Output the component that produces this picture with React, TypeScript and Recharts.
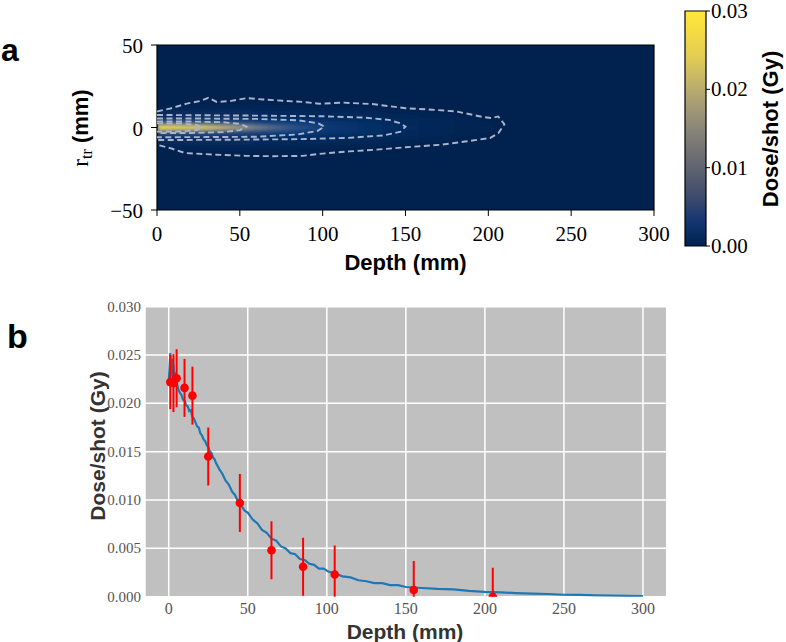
import React from 'react';
import {
  ComposedChart, Line, Area, Scatter, XAxis, YAxis, CartesianGrid, ErrorBar, ReferenceArea,
} from 'recharts';

// ---------- data ----------
const depthTicks = [0, 50, 100, 150, 200, 250, 300];
const radialTicks = [-50, 0, 50];
const colorbarTicks = [0, 0.01, 0.02, 0.03];
const colorbarRange = [0, 0.03];
const doseTicks = [0, 0.005, 0.01, 0.015, 0.02, 0.025, 0.03];

// measured points (panel b)
const measDepth = [1, 3, 5, 10, 15, 25, 45, 65, 85, 105, 155, 205];
const measDose = [0.0222, 0.0221, 0.0226, 0.0216, 0.0208, 0.0145, 0.0097, 0.0048, 0.0031, 0.0023, 0.0007, 0.0000];
const measErr = [0.0028, 0.003, 0.003, 0.003, 0.003, 0.003, 0.003, 0.003, 0.003, 0.003, 0.003, 0.003];

// simulated depth-dose curve (panel b)
const simDepth = [0, 0.5, 1, 1.5, 2, 2.5, 3, 3.5, 4, 4.5, 5, 6, 7, 8, 9, 10, 11, 12, 13, 14, 15, 16, 17, 18, 19, 20,
  21, 22, 23, 24, 25, 26, 27, 28, 29, 30, 32, 34, 36, 38, 40, 42, 44, 46, 48, 50, 53, 56, 59, 62, 65, 68, 71, 74,
  77, 80, 83, 86, 89, 92, 95, 98, 101, 105, 110, 115, 120, 125, 130, 135, 140, 145, 150, 160, 170, 180, 190, 200,
  210, 220, 230, 240, 250, 260, 270, 280, 290, 300];
const simDose = [0.0222, 0.0236, 0.0252, 0.0228, 0.0246, 0.0225, 0.0240, 0.0221, 0.0232, 0.0217, 0.0222, 0.0215,
  0.0211, 0.0209, 0.0204, 0.0203, 0.0198, 0.0197, 0.0192, 0.0193, 0.0186, 0.0184, 0.0180, 0.0176, 0.0175, 0.0169,
  0.0167, 0.0163, 0.0161, 0.0157, 0.0155, 0.0150, 0.0149, 0.0144, 0.0142, 0.0138, 0.0132, 0.0127, 0.0120, 0.0116,
  0.0109, 0.0105, 0.0098, 0.0094, 0.0089, 0.0087, 0.0080, 0.0076, 0.0069, 0.0066, 0.0060, 0.0058, 0.0052, 0.0050,
  0.0045, 0.0044, 0.0039, 0.0038, 0.0034, 0.0033, 0.0029, 0.0029, 0.0026, 0.0024, 0.0021, 0.0020, 0.0017, 0.0016,
  0.0014, 0.0014, 0.0012, 0.0012, 0.0010, 0.0009, 0.0008, 0.00075, 0.0006, 0.0005, 0.00044, 0.00038, 0.00032,
  0.00028, 0.0002, 0.00019, 0.00014, 0.00011, 0.00008, 0.00005];

// isodose contours (panel a), [depth mm, r mm]
const contourOuter: [number, number][] = [[0, 9.7], [8, 11.5], [18, 14.5], [26, 16], [31, 18], [36, 15.5], [44, 16],
  [54, 17.8], [64, 17], [76, 16.2], [88, 15.5], [98, 14.4], [112, 15.1], [130, 14.2], [150, 11.7], [166, 10.8],
  [181, 9.7], [196, 6.5], [202, 5.7], [206, 6.7], [209.7, 2], [206, -3.5], [201, -6.4], [186, -8.5], [171, -10.5],
  [150, -12], [131, -13.5], [116, -14.5], [108, -15.1], [98, -16], [88, -17.2], [70, -17.4], [54, -17.2],
  [36, -16.5], [17, -15.5], [8, -12.5], [0, -10.5]];
const contour150: [number, number][] = [[0, 7.6], [30, 7.4], [60, 7.2], [100, 6.8], [125, 6], [140, 4.6], [147, 2.5],
  [150, 0.5], [147, -2.5], [137, -4.8], [115, -6.3], [90, -7], [60, -7.3], [30, -7.5], [0, -7.6]];
const contour100: [number, number][] = [[0, 5.5], [30, 5.4], [60, 5.2], [85, 4.4], [97, 2.6], [101, 0.6], [97, -2],
  [85, -4.2], [60, -5.6], [30, -5.8], [0, -5.9]];
const contour50: [number, number][] = [[0, 3.6], [20, 3.6], [40, 3.2], [50, 2.2], [54, 0.5], [50, -1.6], [40, -2.8],
  [20, -3.3], [0, -3.4]];
const contour25: [number, number][] = [[0, 2.5], [15, 2.4], [24, 1.5], [27, 0], [24, -1.5], [15, -2.4], [0, -2.5]];

// dose bands (panel a): depth and half-width in mm
const beamDepth = [0, 20, 40, 60, 80, 100, 112];
const beamHalf = [1.9, 1.8, 1.8, 1.7, 1.5, 1.1, 0];
const glowDepth = [0, 30, 60, 90, 120, 150, 165];
const glowHalf = [5, 5, 4.8, 4.5, 3.8, 2.5, 0];
const haloDepth = [0, 50, 100, 150, 190, 215];
const haloHalf = [10, 11, 10, 8, 5, 0];

// ---------- derived tables ----------
// error bars are cut at the lower edge of the plot (dose 0), like the reference
const measData = measDepth.map((x, i) => ({ x, y: measDose[i], err: [Math.min(measErr[i], measDose[i]), measErr[i]] }));
const simData = simDepth.map((x, i) => ({ x, y: simDose[i] }));
const toLine = (pts: [number, number][]) => pts.map(([x, y]) => ({ x, y }));
const toBand = (d: number[], h: number[]) => d.map((x, i) => ({ x, r: [-h[i], h[i]] }));
const contours = [contourOuter, contour150, contour100, contour50, contour25].map(toLine);
const beamData = toBand(beamDepth, beamHalf);
const glowData = toBand(glowDepth, glowHalf);
const haloData = toBand(haloDepth, haloHalf);
const cbarData = colorbarRange.map((y, i) => ({ x: i, y }));

const SERIF = '"Liberation Serif", "DejaVu Serif", serif';
const SANS = '"Liberation Sans", Arial, sans-serif';

const fmtSigned = (v: number) => (v < 0 ? `\u2212${-v}` : `${v}`);

const TopXTick = (p: any) => (
  <text x={p.x} y={p.y + 25} textAnchor="middle" fontFamily={SERIF} fontSize={21} fill="#000">{fmtSigned(p.payload.value)}</text>
);
const TopYTick = (p: any) => (
  <text x={p.x - 8} y={p.y + 8} textAnchor="end" fontFamily={SERIF} fontSize={21} fill="#000">{fmtSigned(p.payload.value)}</text>
);
const CbarTick = (p: any) => (
  <text x={p.x + 1} y={p.y + 7} textAnchor="start" fontFamily={SERIF} fontSize={21} fill="#000">{Number(p.payload.value).toFixed(2)}</text>
);
const BotXTick = (p: any) => (
  <text x={p.x} y={p.y + 17.5} textAnchor="middle" fontFamily={SERIF} fontSize={16} fill="#555">{p.payload.value}</text>
);
const BotYTick = (p: any) => (
  <text x={p.x - 4} y={p.y + 5} textAnchor="end" fontFamily={SERIF} fontSize={15} fill="#555">{Number(p.payload.value).toFixed(3)}</text>
);

export default function App() {
  return (
    <div style={{ position: 'absolute', left: 0, top: 0, width: 786, height: 642, background: '#fff', overflow: 'hidden' }}>
      <div style={{ position: 'absolute', left: 1, top: 30, fontFamily: SANS, fontWeight: 700, fontSize: 32, lineHeight: '40px' }}>a</div>
      <div style={{ position: 'absolute', left: 7, top: 315, fontFamily: SANS, fontWeight: 700, fontSize: 34, lineHeight: '42px' }}>b</div>

      {/* panel a: dose map */}
      <div style={{ position: 'absolute', left: 0, top: 0 }}>
        <ComposedChart width={786} height={280} margin={{ top: 45, right: 132, bottom: 0, left: 0 }}>
          <defs>
            <linearGradient id="beamGrad" x1="0" y1="0" x2="1" y2="0">
              <stop offset="0" stopColor="#f7de5c" />
              <stop offset="0.25" stopColor="#ead06a" />
              <stop offset="0.4" stopColor="#b9aa7a" />
              <stop offset="0.55" stopColor="#7c8088" />
              <stop offset="0.75" stopColor="#3e5b8c" stopOpacity="0.8" />
              <stop offset="1" stopColor="#1e4a8c" stopOpacity="0" />
            </linearGradient>
            <linearGradient id="glowGrad" x1="0" y1="0" x2="1" y2="0">
              <stop offset="0" stopColor="#3d5a88" stopOpacity="0.7" />
              <stop offset="0.5" stopColor="#1c4f98" stopOpacity="0.5" />
              <stop offset="1" stopColor="#0d3a7a" stopOpacity="0" />
            </linearGradient>
            <linearGradient id="haloGrad" x1="0" y1="0" x2="1" y2="0">
              <stop offset="0" stopColor="#12387a" stopOpacity="0.5" />
              <stop offset="0.6" stopColor="#0c3a7c" stopOpacity="0.35" />
              <stop offset="1" stopColor="#0c3a7c" stopOpacity="0" />
            </linearGradient>
            <filter id="soft" x="-20%" y="-150%" width="140%" height="400%">
              <feGaussianBlur stdDeviation="2" />
            </filter>
            <filter id="softer" x="-20%" y="-100%" width="140%" height="300%">
              <feGaussianBlur stdDeviation="4" />
            </filter>
          </defs>
          <CartesianGrid fill="#01224f" horizontal={false} vertical={false} />
          <XAxis type="number" dataKey="x" domain={[0, 300]} ticks={depthTicks} allowDataOverflow
            height={70} tickSize={6} tickMargin={0} axisLine={false} tickLine={{ stroke: '#000' }} tick={TopXTick}
            label={{ content: () => (
              <text x={405.5} y={270} textAnchor="middle" fontFamily={SANS} fontWeight={700} fontSize={22} fill="#000">Depth (mm)</text>
            ) }} />
          <YAxis type="number" domain={[-50, 50]} ticks={radialTicks} allowDataOverflow width={157}
            tickSize={6} tickMargin={0} axisLine={false} tickLine={{ stroke: '#000' }} tick={TopYTick}
            label={{ content: () => (
              <text x={88} y={128} transform="rotate(-90 88 128)" textAnchor="middle" fill="#000">
                <tspan fontFamily={SERIF} fontSize={23}>r</tspan>
                <tspan fontFamily={SERIF} fontSize={16} dy={4}>tr</tspan>
                <tspan fontFamily={SANS} fontWeight={700} fontSize={22} dy={-4}> (mm)</tspan>
              </text>
            ) }} />
          <Area data={haloData} dataKey="r" type="monotone" stroke="none" fill="url(#haloGrad)" fillOpacity={1}
            filter="url(#softer)" isAnimationActive={false} />
          <Area data={glowData} dataKey="r" type="monotone" stroke="none" fill="url(#glowGrad)" fillOpacity={1}
            filter="url(#soft)" isAnimationActive={false} />
          <Area data={beamData} dataKey="r" type="monotone" stroke="none" fill="url(#beamGrad)" fillOpacity={1}
            filter="url(#soft)" isAnimationActive={false} />
          {contours.map((c, i) => (
            <Line key={i} data={c} dataKey="y" type="linear" stroke="#a9b5cc" strokeWidth={1.9}
              strokeDasharray="6 3.5" dot={false} activeDot={false} isAnimationActive={false} />
          ))}
          <ReferenceArea x1={0} x2={300} y1={-50} y2={50} fill="none" stroke="#000" strokeWidth={1.2} fillOpacity={0} />
        </ComposedChart>
      </div>

      {/* colour bar */}
      <div style={{ position: 'absolute', left: 660, top: 0 }}>
        <ComposedChart width={126} height={270} margin={{ top: 11, right: 0, bottom: 24, left: 25 }} data={cbarData}>
          <defs>
            <linearGradient id="cividis" x1="0" y1="1" x2="0" y2="0">
              <stop offset="0" stopColor="#00224e" />
              <stop offset="0.1" stopColor="#123570" />
              <stop offset="0.2" stopColor="#3b496c" />
              <stop offset="0.3" stopColor="#575d6d" />
              <stop offset="0.4" stopColor="#707173" />
              <stop offset="0.5" stopColor="#8a8678" />
              <stop offset="0.6" stopColor="#a59c74" />
              <stop offset="0.7" stopColor="#c3b369" />
              <stop offset="0.8" stopColor="#e1cc55" />
              <stop offset="0.9" stopColor="#f2da45" />
              <stop offset="1" stopColor="#fee838" />
            </linearGradient>
          </defs>
          <XAxis type="number" dataKey="x" domain={[0, 1]} hide />
          <YAxis type="number" orientation="right" domain={[0, 0.03]} ticks={colorbarTicks} width={80}
            tickSize={4} tickMargin={0} axisLine={false} tickLine={{ stroke: '#000' }} tick={CbarTick}
            label={{ content: () => (
              <text x={118} y={129} transform="rotate(-90 118 129)" textAnchor="middle" fontFamily={SANS}
                fontWeight={700} fontSize={22} fill="#000">Dose/shot (Gy)</text>
            ) }} />
          <Line dataKey="y" stroke="none" strokeWidth={0} dot={false} activeDot={false} isAnimationActive={false} />
          <ReferenceArea x1={0} x2={1} y1={0} y2={0.03} fill="url(#cividis)" fillOpacity={1} stroke="#000" strokeWidth={1.2} />
        </ComposedChart>
      </div>

      {/* panel b: depth dose */}
      <div style={{ position: 'absolute', left: 0, top: 280 }}>
        <ComposedChart width={786} height={362} margin={{ top: 26.7, right: 119.3, bottom: 0, left: 0 }}>
          <CartesianGrid fill="#c0c0c0" fillOpacity={1} stroke="#ffffff" strokeWidth={1.5} />
          <XAxis type="number" dataKey="x" domain={[-15, 315]} ticks={depthTicks} allowDataOverflow height={45.3}
            tickSize={0} tickMargin={0} axisLine={false} tickLine={false} tick={BotXTick}
            label={{ content: () => (
              <text x={405} y={358.5} textAnchor="middle" fontFamily={SANS} fontWeight={700} fontSize={21} fill="#333">Depth (mm)</text>
            ) }} />
          <YAxis type="number" domain={[0, 0.03]} ticks={doseTicks} allowDataOverflow width={145}
            tickSize={0} tickMargin={0} axisLine={false} tickLine={false} tick={BotYTick}
            label={{ content: () => (
              <text x={105} y={166} transform="rotate(-90 105 166)" textAnchor="middle" fontFamily={SANS}
                fontWeight={700} fontSize={21} fill="#333">Dose/shot (Gy)</text>
            ) }} />
          <Line data={simData} dataKey="y" type="linear" stroke="#1f77b4" strokeWidth={2.2} dot={false}
            activeDot={false} isAnimationActive={false} />
          <Scatter data={measData} dataKey="y" fill="#ff0000" isAnimationActive={false}
            shape={(p: any) => <circle cx={p.cx} cy={p.cy} r={4.3} fill="#ff0000" />}>
            <ErrorBar dataKey="err" direction="y" width={0} stroke="#ff0000" strokeWidth={2} />
          </Scatter>
        </ComposedChart>
      </div>
    </div>
  );
}
